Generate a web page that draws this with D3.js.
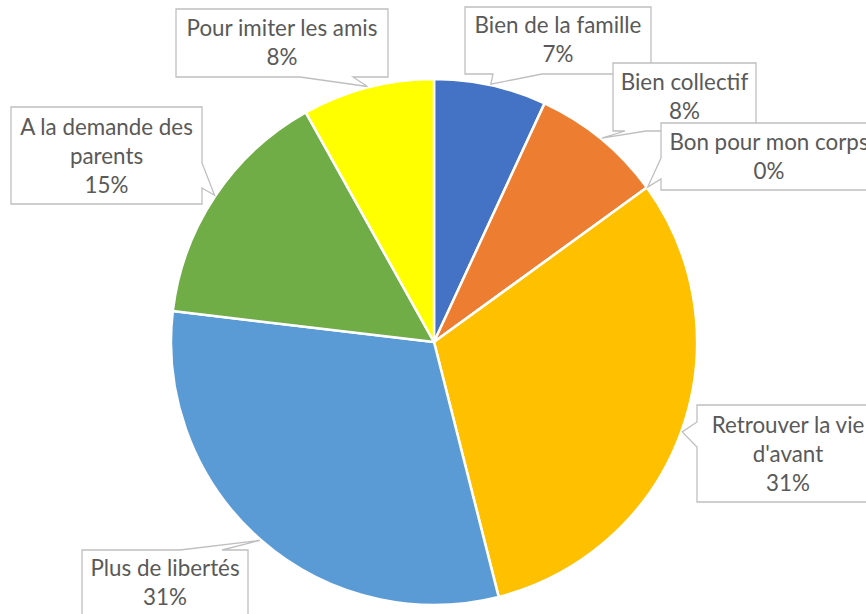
<!DOCTYPE html>
<html>
<head>
<meta charset="utf-8">
<script src="https://cdn.jsdelivr.net/npm/d3@7"></script>
<style>
  html, body { margin: 0; padding: 0; background: #fff; }
  svg { display: block; }
</style>
</head>
<body>
<div id="chart"></div>
<script>
// Data
const categories = ["Bien de la famille", "Bien collectif", "Bon pour mon corps",
                    "Retrouver la vie d'avant", "Plus de libertés",
                    "A la demande des parents", "Pour imiter les amis"];
const values = [6.9, 8.1, 0, 31.0, 30.8, 15.0, 8.1];
const colors = ["#4472C4", "#ED7D31", "#A5A5A5", "#FFC000", "#5B9BD5", "#70AD47", "#FFFF00"];

// label text lines (category part), percent appended below
const labelLines = [
  ["Bien de la famille"],
  ["Bien collectif"],
  ["Bon pour mon corps"],
  ["Retrouver la vie", "d'avant"],
  ["Plus de libertés"],
  ["A la demande des", "parents"],
  ["Pour imiter les amis"]
];

// callout boxes: x, y, w, h, side of the wedge and its base along that side
const callouts = [
  { x: 465, y: 7,   w: 186, h: 67, side: "bottom", base: [493, 542], top: 33 },
  { x: 613, y: 63,  w: 143, h: 68, side: "bottom", base: [625, 646], top: 90 },
  { x: 661, y: 123, w: 216, h: 67, side: "left",   base: [158, 179], top: 150 },
  { x: 697, y: 405, w: 182, h: 97, side: "left",   base: [422, 447], top: 433 },
  { x: 82,  y: 550, w: 166, h: 68, side: "top",    base: [180, 222], top: 576 },
  { x: 11,  y: 107, w: 191, h: 97, side: "right",  base: [163, 188], top: 135 },
  { x: 176, y: 9,   w: 212, h: 68, side: "bottom", base: [300, 353], top: 36 }
];

const W = 866, H = 614;
const cx = 434, cy = 342, R = 263;
const lineGap = 29;

const svg = d3.select("#chart").append("svg")
  .attr("width", W)
  .attr("height", H);

const total = d3.sum(values);
const pie = d3.pie().sort(null).value(d => d)(values);
const arc = d3.arc().innerRadius(0).outerRadius(R);

const g = svg.append("g").attr("transform", `translate(${cx},${cy})`);

g.selectAll("path.slice")
  .data(pie)
  .enter()
  .append("path")
  .attr("class", "slice")
  .attr("d", arc)
  .attr("fill", (d, i) => colors[i])
  .attr("stroke", "#fff")
  .attr("stroke-width", 2.5)
  .attr("stroke-linejoin", "round");

// font size: fit a reference string to its measured width
const probe = svg.append("text")
  .attr("font-family", "Lato, 'Open Sans', sans-serif")
  .attr("font-size", 20)
  .text("Pour imiter les amis");
const fontSize = 20 * 191 / probe.node().getComputedTextLength();
probe.remove();

// callout path: rectangle with a wedge pointing to tip
const calloutPath = (c, tip) => {
  const x0 = c.x, y0 = c.y, x1 = c.x + c.w, y1 = c.y + c.h;
  const [a, b] = c.base;
  const p = d3.path();
  p.moveTo(x0, y0);
  if (c.side === "top") { p.lineTo(a, y0); p.lineTo(tip[0], tip[1]); p.lineTo(b, y0); }
  p.lineTo(x1, y0);
  if (c.side === "right") { p.lineTo(x1, a); p.lineTo(tip[0], tip[1]); p.lineTo(x1, b); }
  p.lineTo(x1, y1);
  if (c.side === "bottom") { p.lineTo(b, y1); p.lineTo(tip[0], tip[1]); p.lineTo(a, y1); }
  p.lineTo(x0, y1);
  if (c.side === "left") { p.lineTo(x0, b); p.lineTo(tip[0], tip[1]); p.lineTo(x0, a); }
  p.closePath();
  return p.toString();
};

const labels = svg.append("g");

pie.forEach((d, i) => {
  const c = callouts[i];
  const mid = (d.startAngle + d.endAngle) / 2;
  const tip = [cx + Math.sin(mid) * (R + 1), cy - Math.cos(mid) * (R + 1)];

  labels.append("path")
    .attr("d", calloutPath(c, tip))
    .attr("fill", "#fff")
    .attr("stroke", "#BFBFBF")
    .attr("stroke-width", 1.3);

  const lines = labelLines[i].concat([Math.round(d.value / total * 100) + "%"]);
  const t = labels.append("text")
    .attr("font-family", "Lato, 'Open Sans', sans-serif")
    .attr("font-size", fontSize)
    .attr("fill", "#595959")
    .attr("text-anchor", "middle");
  lines.forEach((s, k) => {
    t.append("tspan")
      .attr("x", c.x + c.w / 2)
      .attr("y", c.top + k * lineGap)
      .text(s);
  });
});
</script>
</body>
</html>
